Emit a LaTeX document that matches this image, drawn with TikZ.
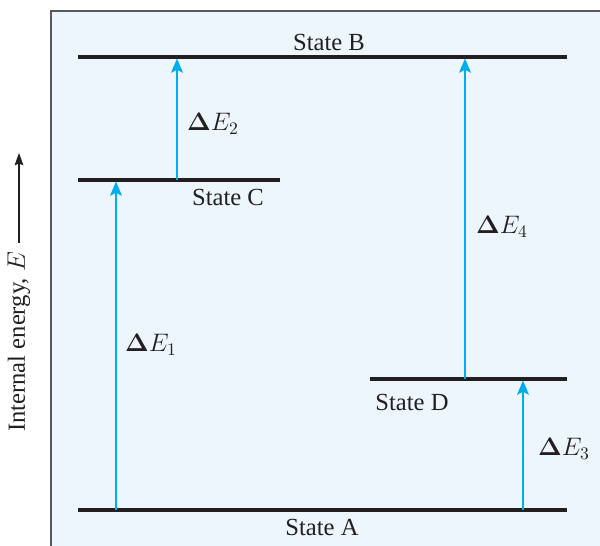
\documentclass[tikz,border=0pt]{standalone}
\usepackage{amsmath,amssymb}
\usepackage[no-math]{fontspec}
\setmainfont{Liberation Serif}
\usetikzlibrary{arrows.meta}

\definecolor{panel}{HTML}{EEF6FD}
\definecolor{frame}{HTML}{58595B}
\definecolor{ink}{HTML}{231F20}
\definecolor{jump}{HTML}{00AEEF}

\tikzset{
  level/.style={line width=1.9pt,ink},
  jumparrow/.style={line width=1.7pt,jump,shorten >=0.8pt,
    -{Stealth[length=8pt,width=6.5pt,inset=1.5pt]}},
  lab/.style={font=\fontsize{14}{16}\selectfont,text=ink,inner sep=1pt},
}

\begin{document}
\begin{tikzpicture}[scale=1]

\useasboundingbox (0,0) rectangle (12,10.92);

% Panel
\fill[panel] (1.02,0) rectangle (12,10.7);
\draw[frame,line width=0.7pt] (1.02,0) -- (1.02,10.7) -- (12,10.7);

% Energy levels
\coordinate (B1) at (1.56,9.78);  \coordinate (B2) at (11.34,9.78);
\coordinate (C1) at (1.56,7.32);  \coordinate (C2) at (5.6,7.32);
\coordinate (D1) at (7.4,3.34);   \coordinate (D2) at (11.34,3.34);
\coordinate (A1) at (1.56,0.72);  \coordinate (A2) at (11.34,0.72);
\draw[level] (B1)--(B2);
\draw[level] (C1)--(C2);
\draw[level] (D1)--(D2);
\draw[level] (A1)--(A2);

\node[lab] (stB) at (6.58,10.08){State B};
\node[lab] (stC) at (4.56,6.98){State C};
\node[lab] (stD) at (8.24,2.88){State D};
\node[lab] (stA) at (6.44,0.38){State A};

% Transitions
\coordinate (e1a) at (2.32,0.72);  \coordinate (e1b) at (2.32,7.32);
\coordinate (e2a) at (3.54,7.32);  \coordinate (e2b) at (3.54,9.78);
\coordinate (e3a) at (10.46,0.72); \coordinate (e3b) at (10.46,3.34);
\coordinate (e4a) at (9.3,3.34);   \coordinate (e4b) at (9.3,9.78);
\draw[jumparrow] (e1a)--(e1b);
\draw[jumparrow] (e2a)--(e2b);
\draw[jumparrow] (e3a)--(e3b);
\draw[jumparrow] (e4a)--(e4b);

\node[lab,anchor=west] (dE1) at (2.46,4.02){$\boldsymbol{\Delta}E_1$};
\node[lab,anchor=west] (dE2) at (3.7,8.44){$\boldsymbol{\Delta}E_2$};
\node[lab,anchor=west] (dE3) at (10.72,1.94){$\boldsymbol{\Delta}E_3$};
\node[lab,anchor=west] (dE4) at (9.48,6.38){$\boldsymbol{\Delta}E_4$};

% Energy axis
\node[lab,rotate=90] (axis) at (0.38,4.08){Internal energy, $E$};
\draw[ink,line width=0.6pt,-{Stealth[length=7pt,width=5pt,inset=1pt]}]
  ([yshift=4pt]axis.east) -- ++(0,1.8);

\end{tikzpicture}
\end{document}
